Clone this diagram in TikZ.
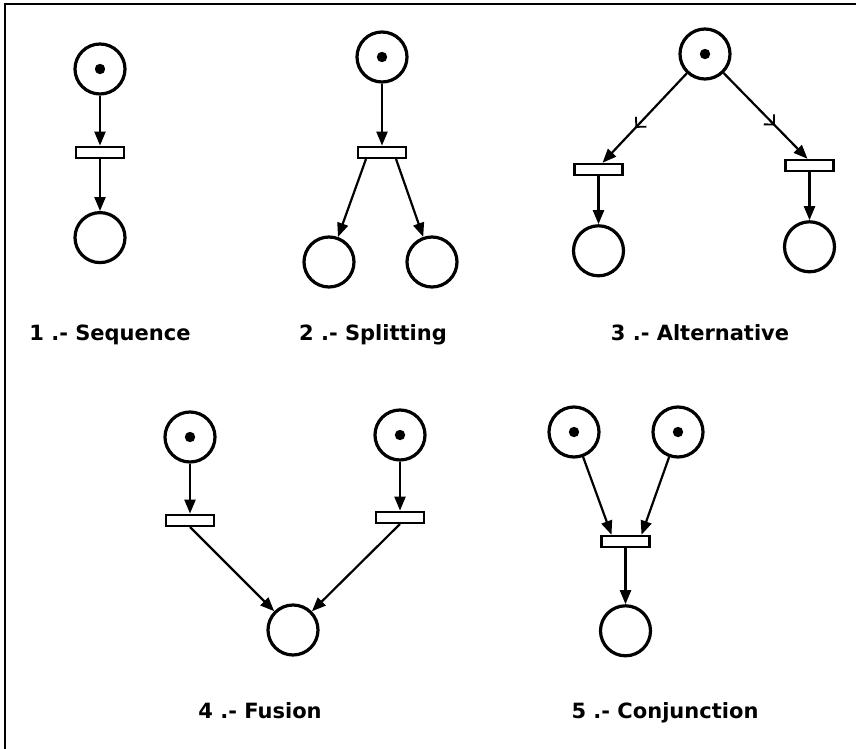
\documentclass[tikz,border=0pt]{standalone}
\usepackage{fontspec}
\newfontfamily\capfont{DejaVu Sans}
\usetikzlibrary{positioning,arrows.meta,decorations.markings}
\tikzset{
  >={Triangle[length=7pt,width=5.5pt]},
  plc/.style={circle,draw,line width=1.6pt,minimum size=25pt,inner sep=0pt},
  tokplc/.style={plc,path picture={\fill (path picture bounding box.center) circle (2.6pt);}},
  trn/.style={rectangle,draw,line width=1.1pt,minimum width=24pt,minimum height=5.6pt,inner sep=0pt},
  flow/.style={->,line width=1.1pt},
  altflow/.style={flow,postaction={decorate},
    decoration={markings,mark=at position 0.6 with
      {\draw[-,line width=0.9pt] (-3.6pt,3.6pt) -- (0pt,0pt) -- (-3.6pt,-3.6pt);}}},
  lbl/.style={font=\capfont\bfseries\fontsize{10.5}{12}\selectfont,anchor=base,inner sep=0pt},
}
\begin{document}
\begin{tikzpicture}[x=0.5pt,y=-0.5pt]
  \useasboundingbox (0,0) rectangle (856,749);
  \draw[line width=0.8pt] (856,4) -- (5,4) -- (5,749);
  % 1 sequence
  \node[tokplc] (p11) at (100,69) {};
  \node[trn,below=25pt of p11] (t11) {};
  \node[plc,below=26pt of t11] (p12) {};
  \draw[flow] (p11) -- (t11);
  \draw[flow] (t11) -- (p12);
  \node[lbl] (c1) at (110,340) {1 .- Sequence};
  % 2 splitting
  \node[tokplc] (p21) at (382,57) {};
  \node[trn,below=31pt of p21] (t21) {};
  \node[plc] (p22) at (329,262) {};
  \node[plc] (p23) at (432,262) {};
  \draw[flow] (p21) -- (t21);
  \draw[flow] ([xshift=-8pt]t21.south) -- (p22);
  \draw[flow] ([xshift=7pt]t21.south) -- (p23);
  \node[lbl] (c2) at (373,340) {2 .- Splitting};
  % 3 alternative
  \node[tokplc] (p31) at (705,54) {};
  \node[trn] (t31) at (598.5,169.5) {};
  \node[trn] (t32) at (809.5,165.5) {};
  \node[plc,below=24pt of t31] (p32) {};
  \node[plc,below=24pt of t32] (p33) {};
  \draw[altflow] (p31) -- ([xshift=2pt]t31.north);
  \draw[altflow] (p31) -- ([xshift=-1pt]t32.north);
  \draw[flow] (t31) -- (p32);
  \draw[flow] (t32) -- (p33);
  \node[lbl] (c3) at (700,340) {3 .- Alternative};
  % 4 fusion
  \node[tokplc] (p41) at (190,437) {};
  \node[tokplc] (p42) at (400,435) {};
  \node[trn,below=25pt of p41] (t41) {};
  \node[trn,below=24.5pt of p42] (t42) {};
  \node[plc] (p43) at (293,630) {};
  \draw[flow] (p41) -- (t41);
  \draw[flow] (p42) -- (t42);
  \draw[flow] (t41.south) -- (p43);
  \draw[flow] (t42.south) -- (p43);
  \node[lbl] (c4) at (260,718) {4 .- Fusion};
  % 5 conjunction
  \node[tokplc] (p51) at (574,432) {};
  \node[tokplc] (p52) at (678,432) {};
  \node[trn] (t51) at (625.5,541.5) {};
  \node[plc,below=28pt of t51] (p53) {};
  \draw[flow] (p51) -- ([xshift=-7pt]t51.north);
  \draw[flow] (p52) -- ([xshift=8pt]t51.north);
  \draw[flow] (t51) -- (p53);
  \node[lbl] (c5) at (665,718) {5 .- Conjunction};
\end{tikzpicture}
\end{document}
